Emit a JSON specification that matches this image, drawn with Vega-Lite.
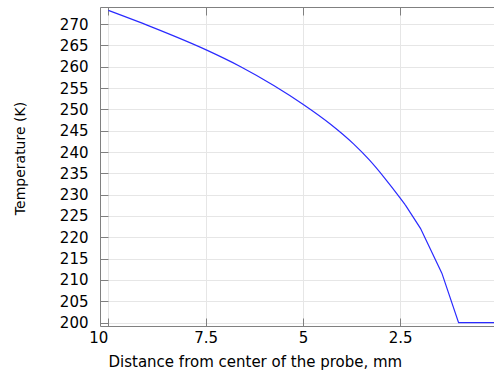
{
  "$schema": "https://vega.github.io/schema/vega-lite/v6.json",
  "width": 394,
  "height": 319,
  "autosize": {"type": "none"},
  "padding": {"left": 100, "top": 7, "right": 0, "bottom": 47},
  "background": "white",
  "config": {
    "view": {"stroke": null},
    "font": "DejaVu Sans",
    "axis": {
      "labelFont": "DejaVu Sans",
      "titleFont": "DejaVu Sans",
      "labelFontSize": 15,
      "titleFontSize": 15,
      "labelColor": "#000000",
      "titleColor": "#000000",
      "titleFontWeight": "normal",
      "domainColor": "#808080",
      "tickColor": "#808080",
      "gridColor": "#e6e6e6",
      "gridWidth": 1
    }
  },
  "data": {
    "values": [
      {"d": 10, "t": 273.2},
      {"d": 8.91, "t": 269.4},
      {"d": 7.5, "t": 264.0},
      {"d": 6.6, "t": 260.0},
      {"d": 5.75, "t": 255.6},
      {"d": 5.0, "t": 251.2},
      {"d": 4.29, "t": 246.5},
      {"d": 3.7, "t": 241.9},
      {"d": 3.3, "t": 238.2},
      {"d": 2.9, "t": 233.9},
      {"d": 2.5, "t": 229.2},
      {"d": 2.37, "t": 227.6},
      {"d": 1.98, "t": 222.1},
      {"d": 1.43, "t": 211.6},
      {"d": 1.0, "t": 200.0},
      {"d": 0.09, "t": 200.0}
    ]
  },
  "encoding": {
    "y": {
      "field": "t", "type": "quantitative",
      "scale": {"domain": [199.2, 274], "nice": false, "zero": false},
      "axis": {
        "values": [200, 205, 210, 215, 220, 225, 230, 235, 240, 245, 250, 255, 260, 265, 270],
        "labelOverlap": false,
        "tickSize": -8,
        "labelPadding": 20,
        "grid": true,
        "title": "Temperature (K)",
        "titleFontSize": 14,
        "titleAngle": -90,
        "titleX": -80,
        "titleY": 151,
        "titleAlign": "center",
        "titleBaseline": "middle"
      }
    }
  },
  "layer": [
    {
      "transform": [{"filter": "datum.d >= 2.37"}],
      "mark": {"type": "line", "color": "#2a2aff", "strokeWidth": 1.2, "clip": true, "interpolate": "monotone"},
      "encoding": {
        "x": {
          "field": "d", "type": "quantitative",
          "scale": {"domain": [0.09, 10.215], "reverse": true, "nice": false, "zero": false},
          "axis": {
            "orient": "bottom",
            "values": [10, 7.5, 5, 2.5],
            "format": ".1~f",
            "tickSize": -8,
            "labelPadding": 12,
            "labelOffset": {"condition": {"test": "datum.value == 10", "value": -10}, "value": 0},
            "grid": true,
            "title": "Distance from center of the probe, mm",
            "titleX": 8,
            "titleY": 40,
            "titleAlign": "left",
            "titleBaseline": "alphabetic",
            "titleFontSize": 15
          }
        }
      }
    },
    {
      "transform": [{"filter": "datum.d <= 2.37"}],
      "mark": {"type": "line", "color": "#2a2aff", "strokeWidth": 1.2, "clip": true},
      "encoding": {
        "x": {
          "field": "d", "type": "quantitative",
          "scale": {"domain": [0.09, 10.215], "reverse": true, "nice": false, "zero": false},
          "axis": null
        }
      }
    },
    {
      "mark": {"type": "point", "opacity": 0},
      "encoding": {
        "x": {
          "field": "d", "type": "quantitative",
          "scale": {"domain": [0.09, 10.215], "reverse": true, "nice": false, "zero": false},
          "axis": {
            "orient": "top",
            "values": [10, 7.5, 5, 2.5],
            "tickSize": -8,
            "labels": false,
            "grid": false,
            "title": null
          }
        }
      }
    }
  ],
  "resolve": {"axis": {"x": "independent"}}
}
